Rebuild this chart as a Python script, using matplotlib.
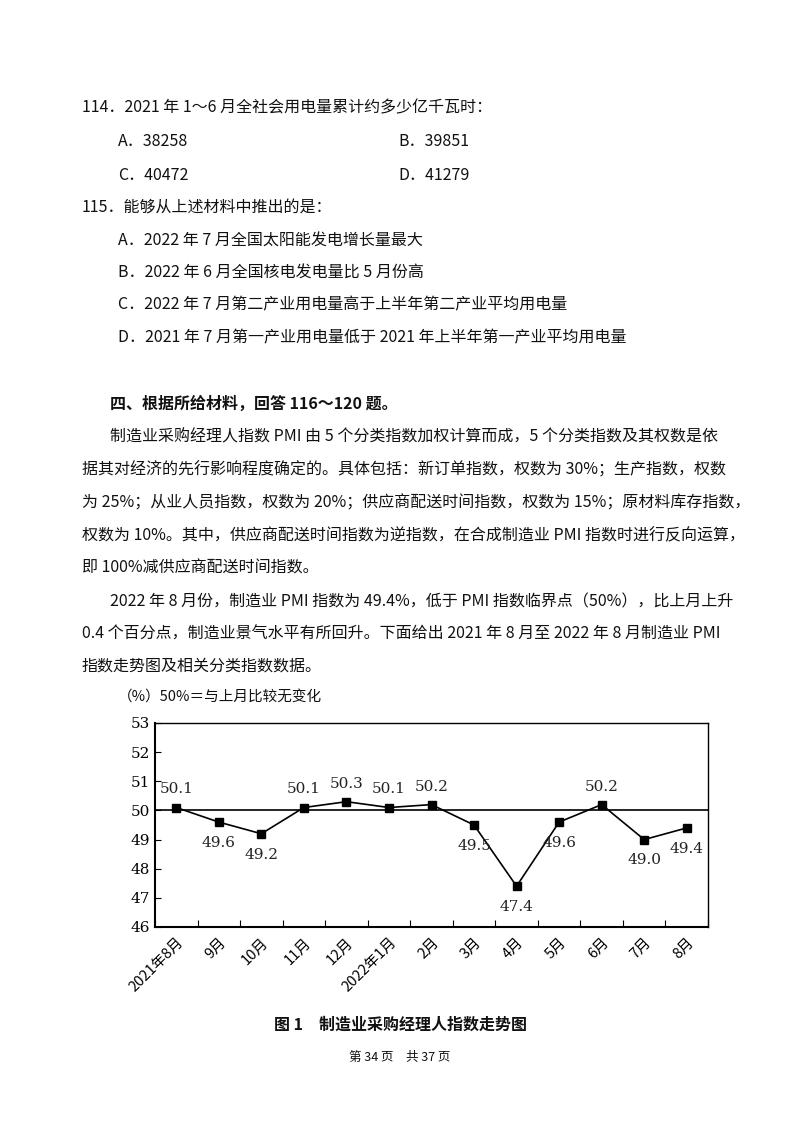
import matplotlib.pyplot as plt
import numpy as np

plt.rcParams['font.family'] = ['Noto Sans CJK SC', 'DejaVu Sans']

# 数据
months = ['2021年8月', '9月', '10月', '11月', '12月', '2022年1月', '2月',
          '3月', '4月', '5月', '6月', '7月', '8月']
pmi = [50.1, 49.6, 49.2, 50.1, 50.3, 50.1, 50.2, 49.5, 47.4, 49.6, 50.2, 49.0, 49.4]
label_pos = ['up', 'down', 'down', 'up', 'up', 'up', 'up', 'down', 'down', 'down', 'up', 'down', 'down']

W, H = 800, 1124
fig = plt.figure(figsize=(W / 100, H / 100), dpi=100)
fig.patch.set_facecolor('white')

def t(x, y, s, size=11.5, weight='normal', ha='left'):
    fig.text(x / W, 1 - y / H, s, fontsize=size, weight=weight, ha=ha, va='center', color='#111111')

t(82, 108, '114．2021 年 1～6 月全社会用电量累计约多少亿千瓦时：')
t(118, 142, 'A．38258'); t(398, 142, 'B．39851')
t(118, 176, 'C．40472'); t(398, 176, 'D．41279')
t(82, 208, '115．能够从上述材料中推出的是：')
t(118, 241, 'A．2022 年 7 月全国太阳能发电增长量最大')
t(118, 273, 'B．2022 年 6 月全国核电发电量比 5 月份高')
t(118, 305, 'C．2022 年 7 月第二产业用电量高于上半年第二产业平均用电量')
t(118, 338, 'D．2021 年 7 月第一产业用电量低于 2021 年上半年第一产业平均用电量')
t(110, 404, '四、根据所给材料，回答 116～120 题。', weight='bold')
para = [
    (110, 437, '制造业采购经理人指数 PMI 由 5 个分类指数加权计算而成，5 个分类指数及其权数是依'),
    (82, 470, '据其对经济的先行影响程度确定的。具体包括：新订单指数，权数为 30%；生产指数，权数'),
    (82, 503, '为 25%；从业人员指数，权数为 20%；供应商配送时间指数，权数为 15%；原材料库存指数，'),
    (82, 536, '权数为 10%。其中，供应商配送时间指数为逆指数，在合成制造业 PMI 指数时进行反向运算，'),
    (82, 568, '即 100%减供应商配送时间指数。'),
    (110, 602, '2022 年 8 月份，制造业 PMI 指数为 49.4%，低于 PMI 指数临界点（50%），比上月上升'),
    (82, 634, '0.4 个百分点，制造业景气水平有所回升。下面给出 2021 年 8 月至 2022 年 8 月制造业 PMI'),
    (82, 666, '指数走势图及相关分类指数数据。'),
]
for x, y, s in para:
    t(x, y, s)
t(118, 698, '（%）50%＝与上月比较无变化', size=10.5)
t(400, 1025, '图 1　制造业采购经理人指数走势图', weight='bold', ha='center')
t(400, 1057, '第 34 页　共 37 页', size=9, ha='center')

# 图表
left, right, top, bottom = 155, 708, 723, 927
ax = fig.add_axes([left / W, 1 - bottom / H, (right - left) / W, (bottom - top) / H])
n = len(pmi)
x = np.arange(n) + 0.5
ax.plot(x, pmi, color='black', lw=1.2, marker='s', ms=6, mfc='black')
ax.axhline(50, color='black', lw=1.2)
for xi, v, p in zip(x, pmi, label_pos):
    dy = 13 if p == 'up' else -15
    ax.annotate(f'{v:.1f}', (xi, v), xytext=(0, dy), textcoords='offset points',
                ha='center', va='center', fontsize=11, family='DejaVu Serif', color='#222222')
ax.set_xlim(0, n)
ax.set_ylim(46, 53)
ax.set_yticks(range(46, 54))
ax.set_yticklabels([str(v) for v in range(46, 54)], family='DejaVu Serif', fontsize=11)
ax.set_xticks(np.arange(0, n + 1))
ax.set_xticklabels([])
ax.set_xticks(x, minor=True)
ax.set_xticklabels(months, minor=True, rotation=45, ha='right', rotation_mode='anchor', fontsize=10.5)
ax.tick_params(axis='x', which='minor', length=0, pad=6)
ax.tick_params(axis='x', which='major', direction='in', length=5)
ax.tick_params(axis='y', direction='in', length=4)
for s in ax.spines.values():
    s.set_linewidth(1.0)
ax.spines['bottom'].set_linewidth(1.5)
ax.spines['left'].set_linewidth(1.5)

fig.savefig('out.png', dpi=100)
